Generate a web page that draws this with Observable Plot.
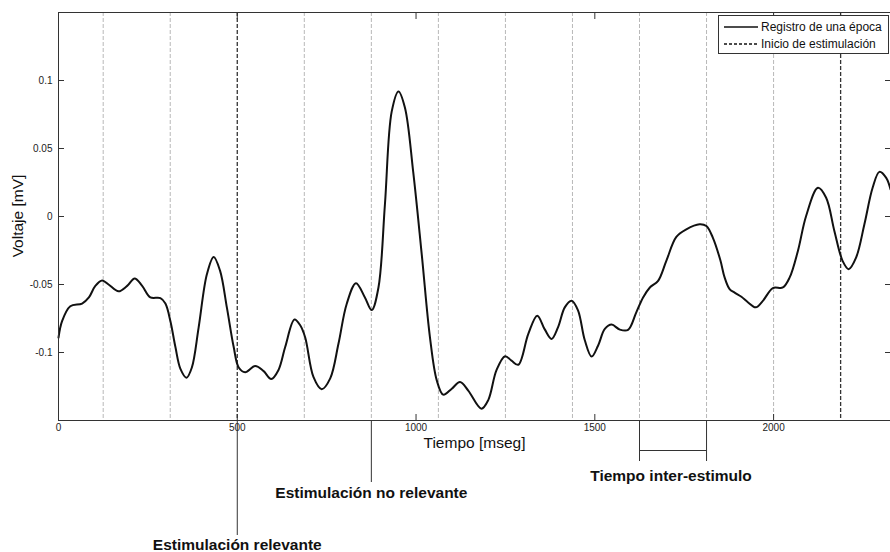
<!DOCTYPE html>
<html><head><meta charset="utf-8">
<script src="https://cdn.jsdelivr.net/npm/d3@7"></script>
<script src="https://cdn.jsdelivr.net/npm/@observablehq/plot@0.6"></script>
<style>html,body{margin:0;padding:0;background:#fff;overflow:hidden}</style>
</head><body><div id="chart"></div>
<script>
const timeMs = [0,10,33,66,85,103,122,140,168,192,213,234,257,285,299,313,327,341,358,373,392,415,434,452,471,490,504,522,550,573,595,615,634,660,676,690,713,736,760,783,806,832,857,876,895,913,932,951,969,992,1016,1039,1058,1076,1100,1123,1146,1183,1202,1225,1249,1267,1286,1314,1339,1360,1379,1397,1416,1435,1453,1472,1491,1509,1528,1547,1570,1593,1616,1635,1654,1677,1700,1728,1756,1793,1812,1830,1851,1863,1877,1891,1910,1928,1950,1970,1998,2026,2045,2068,2091,2124,2147,2170,2193,2210,2231,2254,2277,2296,2315,2327];
const voltage = [-0.089,-0.077,-0.066,-0.064,-0.0595,-0.051,-0.047,-0.050,-0.055,-0.051,-0.0455,-0.051,-0.0595,-0.060,-0.064,-0.077,-0.096,-0.112,-0.1185,-0.111,-0.0815,-0.0425,-0.0297,-0.040,-0.067,-0.096,-0.111,-0.1145,-0.110,-0.1135,-0.1195,-0.113,-0.096,-0.0758,-0.080,-0.089,-0.118,-0.127,-0.119,-0.0936,-0.0643,-0.049,-0.0595,-0.0688,-0.052,0.009,0.0773,0.092,0.080,0.033,-0.028,-0.089,-0.1205,-0.131,-0.1266,-0.1217,-0.128,-0.1413,-0.135,-0.113,-0.1027,-0.106,-0.109,-0.0863,-0.0729,-0.083,-0.090,-0.0815,-0.0668,-0.0619,-0.069,-0.091,-0.103,-0.095,-0.0827,-0.0795,-0.0832,-0.0834,-0.0705,-0.0595,-0.0522,-0.0473,-0.0326,-0.015,-0.0094,-0.0057,-0.007,-0.0155,-0.032,-0.0448,-0.0534,-0.056,-0.059,-0.063,-0.0668,-0.062,-0.0526,-0.0522,-0.0448,-0.0253,0.0004,0.0211,0.0138,-0.0106,-0.0326,-0.0387,-0.030,-0.0057,0.0211,0.0328,0.0284,0.020];
const stimulusOnsets = [125,312.5,500,687.5,875,1062.5,1250,1437.5,1625,1812.5,2000,2187.5];
const relevantOnsets = [500,2187.5];
const nonRelevantMarked = [875];
const interStimulus = [1625,1812.5];
const xTicks = [0,500,1000,1500,2000];
const yTicks = [-0.1,-0.05,0,0.05,0.1];
const yTickLabels = ["-0.1","-0.05","0","0.05","0.1"];
const xDomain = [0,2327];
const yDomain = [-0.15,0.15];
const legendLabels = ["Registro de una época","Inicio de estimulación"];
const yLabel = "Voltaje [mV]";
const xLabel = "Tiempo [mseg]";

const data = timeMs.map((t,i)=>({t, v: voltage[i]}));
const otherOnsets = stimulusOnsets.filter(s=>!relevantOnsets.includes(s));
const yMin = yDomain[0], yMax = yDomain[1];
const font = "'Liberation Sans', Arial, sans-serif";

const plot = Plot.plot({
  width: 890, height: 552,
  marginLeft: 58, marginRight: 0, marginTop: 12, marginBottom: 132,
  style: {fontFamily: font, fontSize: "10px", color: "#222", background: "#fff"},
  x: {domain: xDomain},
  y: {domain: yDomain},
  marks: [
    Plot.ruleX(otherOnsets, {stroke: "#b8b8b8", strokeDasharray: "4,2", strokeWidth: 1}),
    Plot.ruleX(relevantOnsets, {stroke: "#333", strokeDasharray: "4,2", strokeWidth: 1.3}),
    Plot.line(data, {x: "t", y: "v", stroke: "#111", strokeWidth: 2, curve: "catmull-rom"}),
    Plot.ruleY([yMin], {stroke: "#333"}),
    Plot.ruleY([yMax], {stroke: "#333"}),
    Plot.ruleX([xDomain[0]], {stroke: "#333"}),
    Plot.axisX({anchor: "bottom", ticks: xTicks, tickSize: -6, tickPadding: 9, tickFormat: d => String(d), label: null, stroke: "#333"}),
    Plot.axisX({anchor: "top", ticks: xTicks, tickSize: -6, tickFormat: () => "", label: null, stroke: "#333"}),
    Plot.axisY({anchor: "left", ticks: yTicks, tickSize: -6, tickPadding: 12, tickFormat: d => yTickLabels[yTicks.indexOf(d)], label: null, stroke: "#333"}),
    Plot.axisY({anchor: "right", ticks: yTicks, tickSize: -6, tickFormat: () => "", label: null, stroke: "#333"}),
    Plot.text([xLabel], {frameAnchor: "bottom", dy: 27, fontSize: 15.5, fill: "#111"}),
    // annotations below the axis
    Plot.ruleX(relevantOnsets.slice(0,1), {y1: yMin, y2: yMin, insetBottom: -115, stroke: "#333"}),
    Plot.text(relevantOnsets.slice(0,1), {x: d => d, y: yMin, dy: 125, text: () => "Estimulación relevante", fontSize: 15.5, fontWeight: "bold", fill: "#111"}),
    Plot.ruleX(nonRelevantMarked, {y1: yMin, y2: yMin, insetBottom: -62, stroke: "#333"}),
    Plot.text(nonRelevantMarked, {x: d => d, y: yMin, dy: 73, text: () => "Estimulación no relevante", fontSize: 15.5, fontWeight: "bold", fill: "#111"}),
    Plot.ruleX(interStimulus, {y1: yMin, y2: yMin, insetBottom: -41, stroke: "#333"}),
    Plot.ruleY([yMin], {x1: interStimulus[0], x2: interStimulus[1], dy: 30, stroke: "#333"}),
    Plot.text([d3.mean(interStimulus)], {x: d => d, y: yMin, dy: 56, dx: -2, text: () => "Tiempo inter-estimulo", fontSize: 15.5, fontWeight: "bold", fill: "#111"})
  ]
});
document.getElementById("chart").appendChild(plot);

const svg = d3.select(plot);
// y-axis title, centred on the plot frame
const yr = plot.scale("y").range;
svg.append("text")
  .attr("transform", `translate(18,${(yr[0] + yr[1]) / 2}) rotate(-90)`)
  .attr("text-anchor", "middle").attr("dy", "0.35em")
  .attr("font-family", font).attr("font-size", 15.5).attr("fill", "#111")
  .text(yLabel);

// legend (top right, inside the axes box)
const lg = svg.append("g").attr("font-family", font).attr("font-size", 12).attr("text-anchor", "start");
lg.append("rect").attr("x", 718.5).attr("y", 15.5).attr("width", 170).attr("height", 38)
  .attr("fill", "#fff").attr("stroke", "#333");
const rows = [{dash: null}, {dash: "3,2"}];
rows.forEach((r, i) => {
  const yy = 27 + i * 17;
  lg.append("line").attr("x1", 724).attr("x2", 758).attr("y1", yy).attr("y2", yy)
    .attr("stroke", "#111").attr("stroke-width", 1.3).attr("stroke-dasharray", r.dash);
  lg.append("text").attr("x", 761).attr("y", yy).attr("dy", "0.35em").attr("fill", "#111")
    .attr("text-anchor", "start").text(legendLabels[i]);
});
</script></body></html>
